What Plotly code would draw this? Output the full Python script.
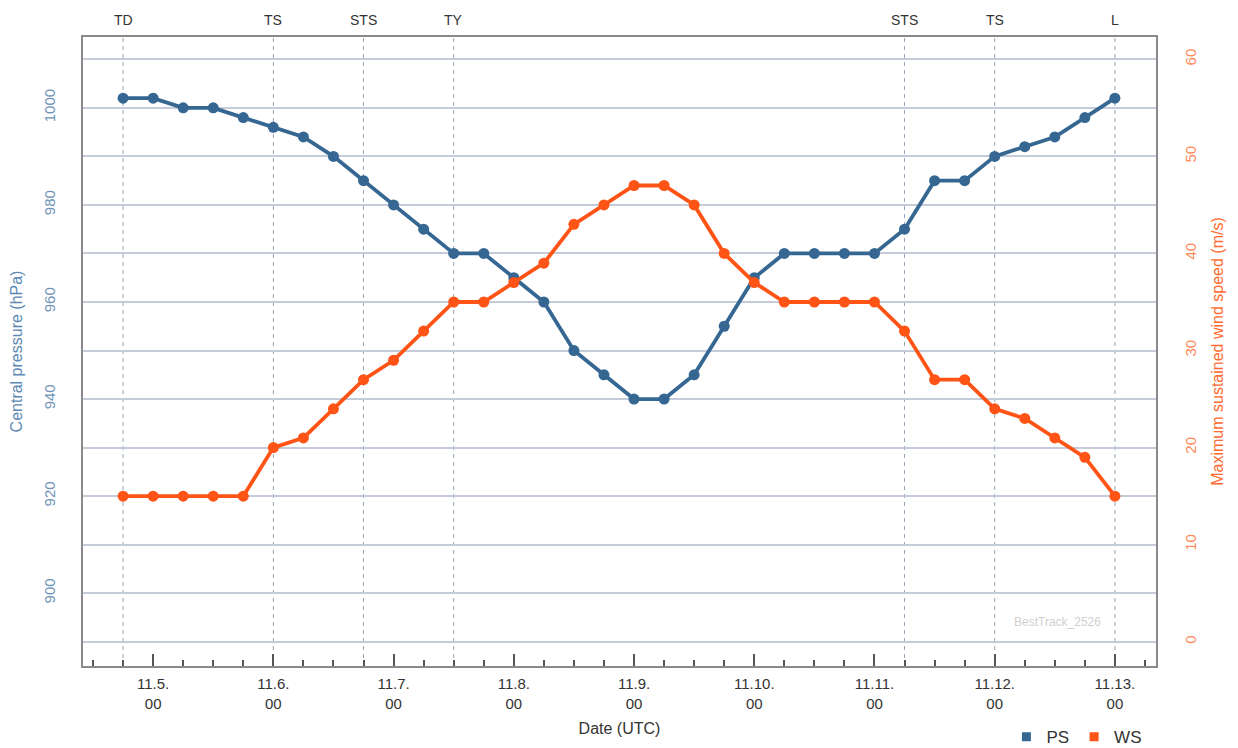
import plotly.graph_objects as go
import pandas as pd

# ---- data ----
start_time = "2025-11-04 18:00"
n_points = 34
times = list(pd.date_range(start_time, periods=n_points, freq="6h"))

pressure = [1002, 1002, 1000, 1000, 998, 996, 994, 990, 985, 980, 975, 970, 970,
            965, 960, 950, 945, 940, 940, 945, 955, 965, 970, 970, 970, 970,
            975, 985, 985, 990, 992, 994, 998, 1002]
wind = [15, 15, 15, 15, 15, 20, 21, 24, 27, 29, 32, 35, 35, 37, 39, 43, 45, 47,
        47, 45, 40, 37, 35, 35, 35, 35, 32, 27, 27, 24, 23, 21, 19, 15]

grade_labels = ["TD", "TS", "STS", "TY", "STS", "TS", "L"]
grade_times = ["2025-11-04 18:00", "2025-11-06 00:00", "2025-11-06 18:00",
               "2025-11-07 12:00", "2025-11-11 06:00", "2025-11-12 00:00",
               "2025-11-13 00:00"]

day_ticks = [f"2025-11-{d:02d} 00:00" for d in range(5, 14)]
day_ticktext = [f"11.{d}.<br>00" for d in range(5, 14)]

p_ticks = [900, 920, 940, 960, 980, 1000]
w_ticks = [0, 10, 20, 30, 40, 50, 60]

PS_COLOR = "#356792"
WS_COLOR = "#ff5416"
GRID = "#c3ccd8"
FONT = "Liberation Sans, Arial, sans-serif"

fig = go.Figure()

fig.add_trace(go.Scatter(
    x=times, y=pressure, mode="lines+markers", name="PS", showlegend=False,
    line=dict(color=PS_COLOR, width=3.8),
    marker=dict(color=PS_COLOR, size=11), yaxis="y"))
fig.add_trace(go.Scatter(
    x=times, y=wind, mode="lines+markers", name="WS", showlegend=False,
    line=dict(color=WS_COLOR, width=3.8),
    marker=dict(color=WS_COLOR, size=11), yaxis="y2"))

# legend entries (square swatches)
fig.add_trace(go.Scatter(x=[None], y=[None], mode="markers", name="PS",
                         marker=dict(symbol="square", color=PS_COLOR, size=9)))
fig.add_trace(go.Scatter(x=[None], y=[None], mode="markers", name="WS",
                         marker=dict(symbol="square", color=WS_COLOR, size=9)))

# vertical dashed lines + grade labels
for lab, t in zip(grade_labels, grade_times):
    fig.add_shape(type="line", xref="x", yref="paper", x0=t, x1=t, y0=0, y1=1,
                  line=dict(color="#97a3b4", width=1, dash="4px,4px"), layer="below")
    fig.add_annotation(x=t, xref="x", y=1.0, yref="paper", yanchor="middle",
                       yshift=17, text=lab, showarrow=False,
                       font=dict(family=FONT, size=14, color="#333333"))

fig.add_annotation(x=1, xref="paper", y=0, yref="paper", xanchor="right",
                   yanchor="middle", xshift=-53, yshift=44,
                   text="BestTrack_2526", showarrow=False,
                   font=dict(family=FONT, size=12, color="#cfcfcf"))

# page body has an 8px margin, so the figure is sized/offset to compensate
fig.update_layout(
    width=1230, height=740,
    margin=dict(l=75, r=82, t=29, b=82, autoexpand=False),
    paper_bgcolor="white", plot_bgcolor="white",
    font=dict(family=FONT, size=14, color="#333333"),
    showlegend=True,
    legend=dict(orientation="h", x=0.992, xanchor="right", y=-0.113, yanchor="middle",
                font=dict(family=FONT, size=17, color="#333333"),
                itemwidth=30, bgcolor="rgba(0,0,0,0)"),
    xaxis=dict(
        type="date", automargin=False,
        range=["2025-11-04 10:00", "2025-11-13 08:12"],
        tickvals=day_ticks, ticktext=day_ticktext,
        ticks="inside", ticklen=12, tickwidth=1.5, tickcolor="#555555",
        minor=dict(ticks="inside", ticklen=6, tickwidth=1.5, tickcolor="#555555",
                   dtick=6 * 3600 * 1000, tick0="2025-11-05 00:00", showgrid=False),
        showgrid=False, showline=True, linecolor="#8a8a8a", linewidth=2,
        mirror=True, zeroline=False, ticklabelstandoff=3,
        tickfont=dict(family=FONT, size=15, color="#333333"),
        title=dict(text="Date (UTC)", font=dict(family=FONT, size=16, color="#333333"),
                   standoff=12),
    ),
    yaxis=dict(
        automargin=False,
        range=[885, 1014.6], tickvals=p_ticks, tickangle=-90,
        showgrid=True, gridcolor=GRID, gridwidth=1.5,
        showline=True, linecolor="#8a8a8a", linewidth=2, zeroline=False,
        ticks="", ticklabelstandoff=20,
        tickfont=dict(family=FONT, size=15, color="#6f93b8"),
        title=dict(text="Central pressure (hPa)",
                   font=dict(family=FONT, size=16, color="#5c88b4"), standoff=14),
    ),
    yaxis2=dict(
        overlaying="y", side="right", automargin=False,
        range=[-2.5, 62.3], tickvals=w_ticks, tickangle=-90,
        showgrid=True, gridcolor=GRID, gridwidth=1.5,
        showline=True, linecolor="#8a8a8a", linewidth=2, zeroline=False,
        ticks="", ticklabelstandoff=20,
        tickfont=dict(family=FONT, size=15, color="#ff8a5c"),
        title=dict(text="Maximum sustained wind speed (m/s)",
                   font=dict(family=FONT, size=16, color="#ff6a30"), standoff=14),
    ),
)

fig.write_html("out.html")
